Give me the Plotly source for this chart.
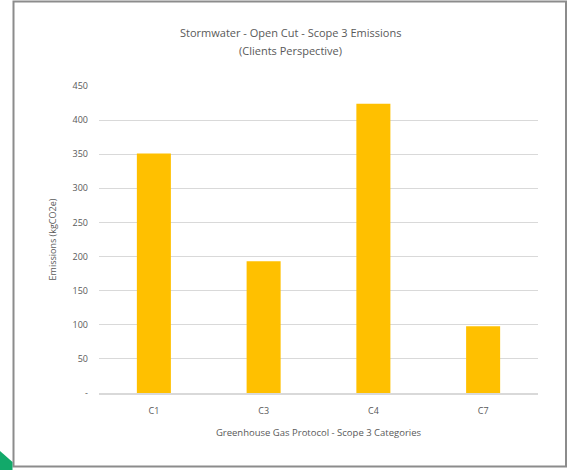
import plotly.graph_objects as go

categories = ["C1", "C3", "C4", "C7"]
emissions = [351, 193, 424, 98]
y_tick_vals = [0, 50, 100, 150, 200, 250, 300, 350, 400, 450]
y_tick_text = ["-", "50", "100", "150", "200", "250", "300", "350", "400", "450"]
title_lines = ["Stormwater - Open Cut - Scope 3 Emissions", "(Clients Perspective)"]

FONT = "Open Sans"
GRAY = "#595959"

fig = go.Figure()
fig.add_trace(go.Bar(
    x=categories, y=emissions,
    marker=dict(color="#FFC000", line=dict(color="#FFC000", width=0)),
    width=0.31,
))

L, R, T, B = 99, 30, 86, 77
W, H = 568, 470
pw = W - L - R
ph = H - T - B

def px(x):
    return (x - L) / pw

def py(y):
    return (H - B - y) / ph

annotations = []
for line, yy in zip(title_lines, [33, 50.5]):
    annotations.append(dict(
        text=line, xref="paper", yref="paper", x=px(290), y=py(yy),
        xanchor="center", yanchor="middle", showarrow=False,
        font=dict(family=FONT, size=11, color=GRAY),
    ))

fig.update_layout(
    width=W, height=H,
    margin=dict(l=L, r=R, t=T, b=B, pad=0),
    paper_bgcolor="white", plot_bgcolor="white",
    showlegend=False,
    font=dict(family=FONT, color=GRAY, size=9),
    annotations=annotations,
    xaxis=dict(
        showgrid=False, showline=True, linecolor="#D9D9D9", linewidth=1.5,
        ticks="", tickfont=dict(size=9, color=GRAY),
        title=dict(text="Greenhouse Gas Protocol - Scope 3 Categories",
                   font=dict(size=9.5, color=GRAY), standoff=14),
        ticklabelstandoff=8,
    ),
    yaxis=dict(
        range=[0, 450], tickvals=y_tick_vals, ticktext=y_tick_text,
        showgrid=True, gridcolor="#D9D9D9", gridwidth=1,
        zeroline=False, showline=False, ticks="",
        tickfont=dict(size=9, color=GRAY),
        ticklabelstandoff=10,
        title=dict(text="Emissions (kgCO2e)", font=dict(size=9, color=GRAY), standoff=14),
    ),
    shapes=[
        dict(type="rect", xref="paper", yref="paper",
             x0=px(13.5), x1=px(566), y0=py(466.5), y1=py(1.5),
             line=dict(color="#8C8C8C", width=2), fillcolor="rgba(0,0,0,0)", layer="below"),
        dict(type="path", xref="paper", yref="paper",
             path=f"M {px(0)} {py(451)} L {px(12.5)} {py(462)} L {px(12.5)} {py(470)} L {px(0)} {py(470)} Z",
             fillcolor="#12A96A", line=dict(width=0), layer="below"),
    ],
)

fig.write_html("out.html")
